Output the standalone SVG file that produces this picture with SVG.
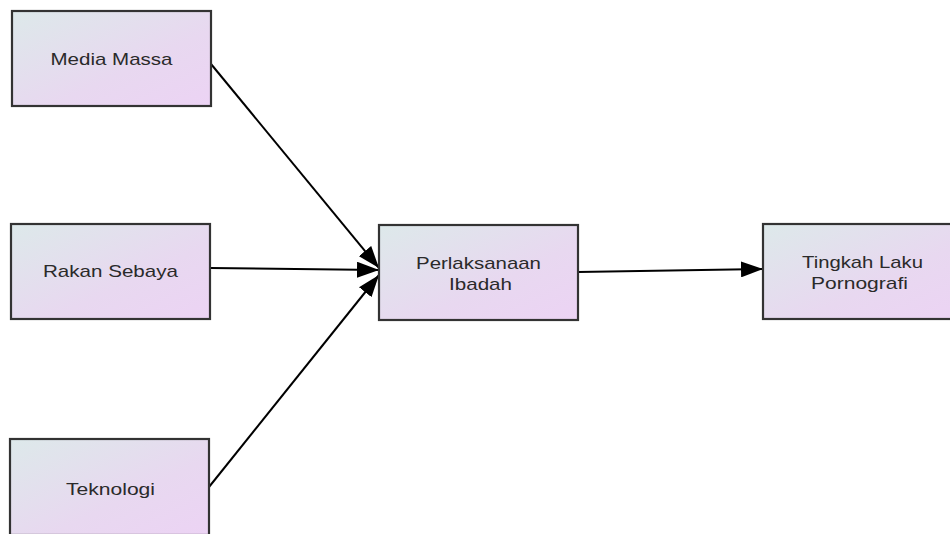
<svg xmlns="http://www.w3.org/2000/svg" width="950" height="534" viewBox="0 0 950 534">
<defs>
<linearGradient id="g" x1="0" y1="0" x2="1" y2="1">
<stop offset="0" stop-color="#dde9ea"/>
<stop offset="0.6" stop-color="#e8d8f0"/>
<stop offset="1" stop-color="#ecd3f4"/>
</linearGradient>
<marker id="arr" markerUnits="userSpaceOnUse" markerWidth="24" markerHeight="16" refX="22" refY="8" orient="auto">
<path d="M0,0 L22,8 L0,16 Z" fill="#000"/>
</marker>
<style>
.box{fill:url(#g);stroke:#333;stroke-width:2.2}
.lbl{font-family:"Liberation Sans",Arial,sans-serif;font-size:17px;fill:#2a2a2a;text-anchor:middle}
.edge{stroke:#000;stroke-width:2;fill:none;marker-end:url(#arr)}
</style>
</defs>
<rect width="950" height="534" fill="#fff"/>
<g id="connectors">
<path class="edge" d="M211,64 L379,268"/>
<path class="edge" d="M210,268 L379,270"/>
<path class="edge" d="M209,487 L379,275"/>
<path class="edge" d="M578,272 L763,269"/>
</g>
<g id="media-massa">
<rect class="box" x="12" y="11" width="199" height="95"/>
<text class="lbl" x="111.5" y="65" textLength="122" lengthAdjust="spacingAndGlyphs">Media Massa</text>
</g>
<g id="rakan-sebaya">
<rect class="box" x="11" y="224" width="199" height="95"/>
<text class="lbl" x="110.5" y="277" textLength="135" lengthAdjust="spacingAndGlyphs">Rakan Sebaya</text>
</g>
<g id="teknologi">
<rect class="box" x="10" y="439" width="199" height="96"/>
<text class="lbl" x="110.5" y="495" textLength="89" lengthAdjust="spacingAndGlyphs">Teknologi</text>
</g>
<g id="perlaksanaan-ibadah">
<rect class="box" x="379" y="225" width="199" height="95"/>
<text class="lbl" x="478.5" y="269" textLength="125" lengthAdjust="spacingAndGlyphs">Perlaksanaan</text>
<text class="lbl" x="480.5" y="290" textLength="63" lengthAdjust="spacingAndGlyphs">Ibadah</text>
</g>
<g id="tingkah-laku-pornografi">
<rect class="box" x="763" y="224" width="199" height="95"/>
<text class="lbl" x="862.5" y="268" textLength="121" lengthAdjust="spacingAndGlyphs">Tingkah Laku</text>
<text class="lbl" x="859.5" y="289" textLength="97" lengthAdjust="spacingAndGlyphs">Pornografi</text>
</g>
</svg>
